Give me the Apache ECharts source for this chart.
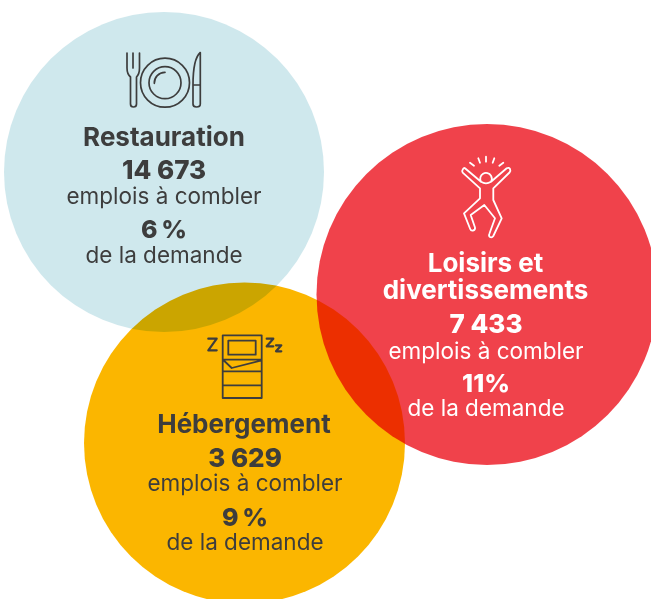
<!DOCTYPE html>
<html>
<head>
<meta charset="utf-8">
<style>
  html, body { margin: 0; padding: 0; background: #fff; overflow: hidden; }
  #main { width: 651px; height: 599px; }
</style>
<script src="https://cdn.jsdelivr.net/npm/echarts@6/dist/echarts.min.js"></script>
</head>
<body>
<div id="main"></div>
<script>
  // secteurs
  var sectorNames = [['Restauration'], ['Loisirs et', 'divertissements'], ['Hébergement']];
  var jobCounts = ['14 673', '7 433', '3 629'];
  var jobLabel = 'emplois à combler';
  var demandShares = ['6\u2009%', '11%', '9\u2009%'];
  var demandLabel = 'de la demande';

  // cercles, en pixels du dessin
  var circleX = [164, 487, 244.5];
  var circleY = [172, 294.5, 443];
  var circleSize = [320, 341, 321];
  var circleColors = ['#cfe8ed', '#f0424b', '#fbb600'];
  var textColors = ['#3d3d3d', '#ffffff', '#3d3d3d'];

  var FONT = 'Inter, "Noto Sans", sans-serif';

  function line(text, x, y, color, size, weight) {
    return {
      type: 'text', silent: true, z: 10,
      style: {
        text: text, x: x, y: y, fill: color,
        fontFamily: FONT, fontSize: size, fontWeight: weight,
        textAlign: 'center', textVerticalAlign: 'middle'
      }
    };
  }

  var plate = 'M189.5 82.7A24.5 24.5 0 1 1 140.5 82.7A24.5 24.5 0 1 1 189.5 82.7Z' +
    'M181 82.7A16 16 0 1 1 149 82.7A16 16 0 1 1 181 82.7Z' +
    'M154.3 83.3A10.7 10.7 0 0 1 165 72.3';
  var fork = 'M127 53V68Q127 74 130.5 77V104Q130.5 107 133.5 107Q136.5 107 136.5 104V77Q139.5 74 139.5 68V53M133 53V68';
  var knife = 'M200.3 52.5C195 57 193 67 193 85V104Q193 107 196.5 107Q200.3 107 200.3 104ZM193 85H200.3';
  var person = 'M465 168.3L481 181.7A5.8 5.8 0 1 1 491 181.7L506.7 168.3Q509 167 510 169Q511 171 509.5 172.5L493.3 188.3V200L501.7 218.3L493.3 236' +
    'Q492 238 490 237Q488.5 236 489.3 234L495 218.3L484.3 205L470.7 215L475 227.5Q475.5 230 473 230.5Q471 231 470.2 229L464 213.3L480 198.3V188.3L462.7 172.7Q461.5 171 463 169Q464 167.5 465 168.3Z' +
    'M481 181.7Q486 185 491 181.7' +
    'M470 162.7L474 165.7M478.3 158.3L480 162.7M486 156.7V161.7M494.3 158.3L492.7 162.7M503.3 162.7L499.3 165.7';
  var bed = 'M222.7 335.3H261.7V398H222.7ZM228.3 340.7H255.7V354.7H228.3ZM222.7 359.7H261.7M223.3 360L231.7 368L261.7 360.3M222.7 371.3H261.7M222.7 385.3H261.7';
  var sleep = 'M208.3 338.7H216.7L208.3 350.3H216.7M266.7 338.7H273.3L266.7 346.3H273.3M276 345.3H281.3L276 351.3H281.3';

  var ink = textColors[0];
  var icons = [
    { d: fork, color: ink, width: 1.7 },
    { d: plate, color: ink, width: 1.7 },
    { d: knife, color: ink, width: 1.7 },
    { d: person, color: textColors[1], width: 1.8 },
    { d: bed, color: ink, width: 1.8 },
    { d: sleep, color: ink, width: 2.2 }
  ];

  var graphics = [];

  // lignes de texte de chaque cercle
  var titleYs = [[138], [264, 291], [425]];
  var titleXs = [164, 485.5, 244];
  var countYs = [171, 325, 459];
  var jobYs = [197, 352, 484];
  var shareYs = [230, 384, 518];
  var demandYs = [256, 409, 543];
  var textXs = [164, 486, 245];

  sectorNames.forEach(function (rows, i) {
    var c = textColors[i];
    rows.forEach(function (row, j) {
      graphics.push(line(row, titleXs[i], titleYs[i][j], c, 26, 700));
    });
    graphics.push(line(jobCounts[i], textXs[i], countYs[i], c, 26, 800));
    graphics.push(line(jobLabel, textXs[i], jobYs[i], c, 22.5, 400));
    graphics.push(line(demandShares[i], textXs[i], shareYs[i], c, 25, 800));
    graphics.push(line(demandLabel, textXs[i], demandYs[i], c, 22.5, 400));
  });

  var chart = echarts.init(document.getElementById('main'), null, { renderer: 'canvas' });
  chart.setOption({
    animation: false,
    backgroundColor: '#ffffff',
    grid: { left: 0, right: 0, top: 0, bottom: 0 },
    xAxis: { type: 'value', min: 0, max: 651, show: false },
    yAxis: { type: 'value', min: 0, max: 599, inverse: true, show: false },
    tooltip: { show: false },
    series: [{
      type: 'scatter',
      silent: true,
      clip: false,
      blendMode: 'multiply',
      data: circleX.map(function (x, i) {
        return {
          value: [x, circleY[i]],
          symbolSize: circleSize[i],
          itemStyle: { color: circleColors[i], opacity: 1 }
        };
      })
    }, {
      // pictogrammes
      type: 'custom',
      silent: true,
      clip: false,
      z: 5,
      data: icons.map(function (ic, i) { return [i, 0]; }),
      renderItem: function (params) {
        var ic = icons[params.dataIndex];
        return {
          type: 'path',
          shape: { pathData: ic.d },
          style: { fill: 'none', stroke: ic.color, lineWidth: ic.width, lineJoin: 'round', lineCap: 'round' }
        };
      }
    }],
    graphic: graphics
  });
</script>
</body>
</html>
